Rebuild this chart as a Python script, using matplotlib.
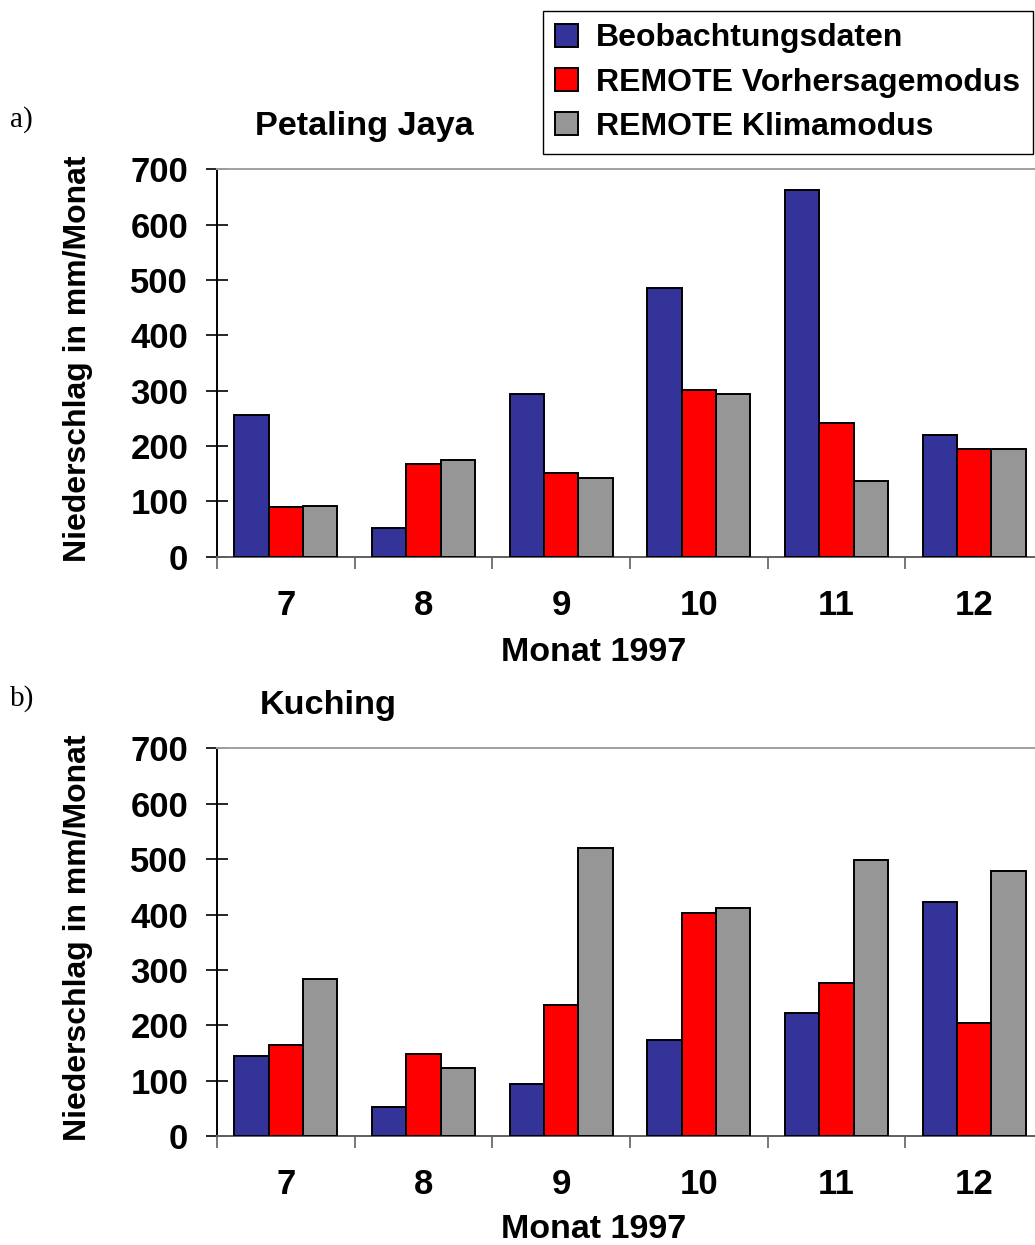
import numpy as np
import matplotlib
matplotlib.use('Agg')
import matplotlib.pyplot as plt
from matplotlib.patches import Patch

# monthly precipitation in mm/Monat, July to December 1997
months = ['7', '8', '9', '10', '11', '12']
series = ['Beobachtungsdaten', 'REMOTE Vorhersagemodus', 'REMOTE Klimamodus']
colors = ['#333399', '#ff0000', '#969696']

pj_obs = [256, 51, 294, 486, 662, 219]
pj_forecast = [89, 167, 151, 301, 242, 195]
pj_climate = [92, 175, 143, 294, 137, 195]

ku_obs = [144, 52, 95, 174, 222, 423]
ku_forecast = [165, 148, 236, 402, 276, 205]
ku_climate = [284, 123, 520, 412, 498, 479]

panels = [('a)', 'Petaling Jaya', [pj_obs, pj_forecast, pj_climate]),
          ('b)', 'Kuching', [ku_obs, ku_forecast, ku_climate])]

plt.rcParams['font.family'] = ['Liberation Sans', 'DejaVu Sans']
plt.rcParams['font.weight'] = 'bold'

W, H = 1035, 1245
fig = plt.figure(figsize=(W / 100, H / 100), dpi=100)

# axes boxes in pixels: left, top, right, bottom (plot runs past right edge)
boxes = [(217, 169.3, 1043, 556.7), (217, 748.3, 1043, 1136.3)]
# distance of the x axis title below the axis, pixels
xlabel_drop = [96, 93]

x = np.arange(len(months))
width = 0.25

for (tag, title, data), (l, t, r, b), drop in zip(panels, boxes, xlabel_drop):
    ax = fig.add_axes([l / W, 1 - b / H, (r - l) / W, (b - t) / H])

    # grouped bars
    for i, vals in enumerate(data):
        ax.bar(x + (i - 1) * width, vals, width, color=colors[i],
               edgecolor='black', linewidth=1.4, zorder=3)

    ax.set_xlim(-0.5, 5.5)
    ax.set_ylim(0, 700)
    ax.set_yticks(np.arange(0, 701, 100))
    ax.set_xticks(x)
    ax.set_xticklabels(months)
    ax.set_xticks(np.arange(-0.5, 5.6, 1), minor=True)

    ax.tick_params(axis='y', direction='inout', length=16.5, width=1.2,
                   labelsize=25, pad=12.5, colors='black')
    ax.tick_params(axis='x', which='major', length=0, labelsize=25, pad=23)
    ax.tick_params(axis='x', which='minor', direction='out', length=8.5,
                   width=1.2, color='#606060')

    ax.spines['left'].set_linewidth(1.4)
    ax.spines['left'].set_color('black')
    ax.spines['bottom'].set_linewidth(1.4)
    ax.spines['bottom'].set_color('#606060')
    ax.spines['top'].set_linewidth(1.4)
    ax.spines['top'].set_color('#a0a0a0')
    ax.spines['right'].set_visible(False)

    # labels and titles
    ax.text((78 - l) / (r - l), 0.512, 'Niederschlag in mm/Monat', rotation=90,
            ha='center', va='center', fontsize=23, transform=ax.transAxes)
    ax.text((594 - l) / (r - l), -(drop / (b - t)), 'Monat 1997',
            ha='center', va='center', fontsize=24.5, transform=ax.transAxes)
    fig.text((364 if tag == 'a)' else 328) / W, 1 - (t - 43) / H, title,
             ha='center', va='center', fontsize=24.7)
    fig.text(10 / W, 1 - (t - 50) / H, tag, ha='left', va='center',
             fontsize=21, fontweight='normal', family='Liberation Serif')

# legend box in the upper right corner
handles = [Patch(facecolor=c, edgecolor='black', linewidth=1.4) for c in colors]
fig.legend(handles, series, loc='upper left',
           bbox_to_anchor=(542.7 / W, 1 - 10.7 / H), borderaxespad=0,
           fontsize=23, handlelength=0.72, handleheight=0.72,
           handletextpad=0.56, labelspacing=0.44, borderpad=0.4,
           frameon=True, fancybox=False, edgecolor='black', framealpha=1)

fig.savefig('out.png', dpi=100)
